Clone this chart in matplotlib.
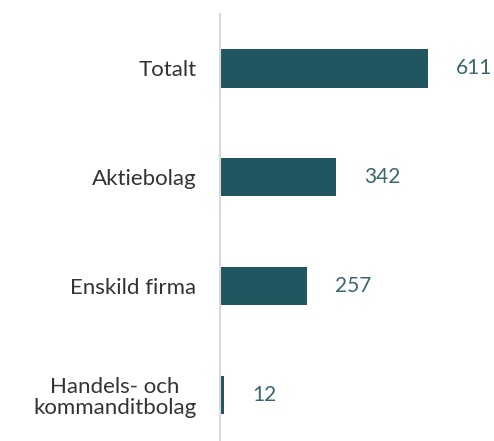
import matplotlib.pyplot as plt

# Data
categories = ["Totalt", "Aktiebolag", "Enskild firma", "Handels- och\nkommanditbolag"]
values = [611, 342, 257, 12]

bar_color = "#215660"
value_color = "#3A6670"
label_color = "#333333"

plt.rcParams['font.family'] = ['Lato', 'DejaVu Sans']

fig = plt.figure(figsize=(4.94, 4.41), dpi=100)
ax = fig.add_axes([220 / 494, 0, 274 / 494, 1 - 14 / 441])

ypos = list(range(len(categories)))
ax.barh(ypos, values, height=0.35, color=bar_color)

ax.set_xlim(0, 805)
ax.set_ylim(3.42, -0.5)

for y, v in zip(ypos, values):
    ax.annotate(str(v), xy=(v, y), xytext=(20, 0), textcoords="offset points",
                ha="left", va="center", fontsize=15, color=value_color)

ax.set_yticks(ypos)
ax.set_yticklabels(categories, fontsize=16, color=label_color, linespacing=1.05)
ax.tick_params(axis="y", length=0, pad=17)
for lbl in ax.get_yticklabels():
    lbl.set_horizontalalignment("right")
    lbl.set_multialignment("center")

ax.set_xticks([])
for s in ["top", "right", "bottom"]:
    ax.spines[s].set_visible(False)
ax.spines["left"].set_color("#D9D9D9")
ax.spines["left"].set_linewidth(1.5)

fig.savefig("out.png", dpi=100)
